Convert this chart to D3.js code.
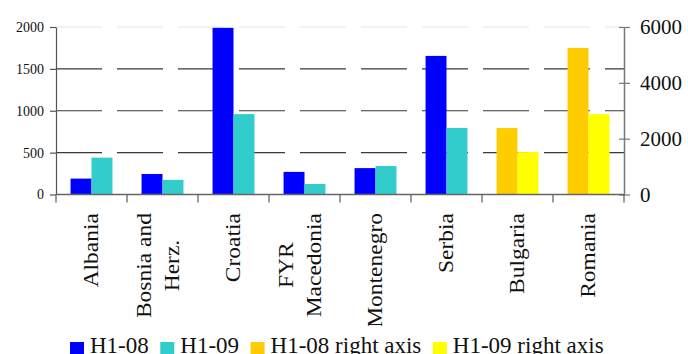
<!DOCTYPE html>
<html>
<head>
<meta charset="utf-8">
<script src="https://cdn.jsdelivr.net/npm/d3@7"></script>
<style>
  html, body { margin: 0; padding: 0; background: #fff; }
  svg { display: block; }
  text { font-family: "Liberation Serif", "Times New Roman", serif; fill: #111; }
</style>
</head>
<body>
<svg id="chart" width="688" height="354"></svg>
<script>
// Countries along the category axis (line breaks mark wrapped labels)
const categories = ["Albania", "Bosnia and\nHerz.", "Croatia", "FYR\nMacedonia", "Montenegro", "Serbia", "Bulgaria", "Romania"];

// Left-axis series
const h108 = [190, 245, 1990, 270, 315, 1655, null, null];
const h109 = [440, 175, 960, 125, 340, 795, null, null];

// Right-axis series
const h108Right = [null, null, null, null, null, null, 2380, 5250];
const h109Right = [null, null, null, null, null, null, 1520, 2880];

const leftTicks = [0, 500, 1000, 1500, 2000];
const rightTicks = [0, 2000, 4000, 6000];

const seriesNames = ["H1-08", "H1-09", "H1-08 right axis", "H1-09 right axis"];
const seriesColors = ["#0000FF", "#33CCCC", "#FFCC00", "#FFFF00"];

const svg = d3.select("#chart");
const plotLeft = 56, plotRight = 624, plotTop = 27, plotBottom = 194.5;

const x = d3.scaleBand().domain(categories).range([plotLeft, plotRight]);
const bw = x.bandwidth();
const slot = d3.scaleBand().domain([0, 1]).range([bw * 0.205, bw * 0.795]);
const yLeft = d3.scaleLinear().domain([0, 2000]).range([plotBottom, plotTop]);
const yRight = d3.scaleLinear().domain([0, 6000]).range([plotBottom, plotTop]);

// Horizontal gridlines (dashed)
svg.append("g").selectAll("line")
  .data(leftTicks.filter(d => d > 0))
  .join("line")
  .attr("x1", plotLeft).attr("x2", plotRight)
  .attr("y1", d => yLeft(d)).attr("y2", d => yLeft(d))
  .attr("stroke", d => d === 2000 ? "#e6e6e6" : "#3a3a3a")
  .attr("stroke-width", 1.2)
  .attr("stroke-dasharray", "46,15");

// Bars
const series = [
  { values: h108, slot: 0, y: yLeft, color: seriesColors[0] },
  { values: h109, slot: 1, y: yLeft, color: seriesColors[1] },
  { values: h108Right, slot: 0, y: yRight, color: seriesColors[2] },
  { values: h109Right, slot: 1, y: yRight, color: seriesColors[3] }
];
series.forEach(s => {
  svg.append("g").selectAll("rect")
    .data(categories.map((c, i) => ({ c, v: s.values[i] })).filter(d => d.v != null))
    .join("rect")
    .attr("x", d => x(d.c) + slot(s.slot))
    .attr("width", slot.bandwidth())
    .attr("y", d => s.y(d.v))
    .attr("height", d => s.y(0) - s.y(d.v))
    .attr("fill", s.color);
});

// Left axis
const gl = svg.append("g").attr("transform", `translate(${plotLeft},0)`)
  .call(d3.axisLeft(yLeft).tickValues(leftTicks).tickFormat(d3.format("d")).tickSize(6).tickSizeOuter(0).tickPadding(6));
gl.select(".domain").attr("stroke", "#555").attr("stroke-width", 1.2);
gl.selectAll(".tick line").attr("stroke", "#555").attr("stroke-width", 1.2);
gl.selectAll(".tick text").attr("font-size", 14).attr("font-family", "Liberation Serif").attr("fill", "#222");

// Right axis
const gr = svg.append("g").attr("transform", `translate(${plotRight},0)`)
  .call(d3.axisRight(yRight).tickValues(rightTicks).tickFormat(d3.format("d")).tickSize(6).tickSizeOuter(0).tickPadding(10));
gr.select(".domain").attr("stroke", "#777").attr("stroke-width", 1.5);
gr.selectAll(".tick line").attr("x1", -5).attr("stroke", "#777").attr("stroke-width", 1.2);
gr.selectAll(".tick text").attr("font-size", 21).attr("font-family", "Liberation Serif").attr("fill", "#111");

// Category axis: baseline and boundary ticks
const bounds = categories.map(c => x(c)).concat([x.range()[1]]);
svg.append("line")
  .attr("x1", plotLeft).attr("x2", plotRight)
  .attr("y1", plotBottom).attr("y2", plotBottom)
  .attr("stroke", "#666").attr("stroke-width", 1.3);
svg.append("g").selectAll("line")
  .data(bounds)
  .join("line")
  .attr("x1", d => d).attr("x2", d => d)
  .attr("y1", plotBottom).attr("y2", plotBottom + 8)
  .attr("stroke", "#666").attr("stroke-width", 1.3);

// Rotated category labels
const labelFont = 23.5, squeeze = 0.87, lineGap = 28, labelTop = 213;
const labels = svg.append("g");
categories.forEach(c => {
  const lines = c.split("\n");
  const n = lines.length;
  const cx = x(c) + bw / 2 + (n > 1 ? -4 : 0);
  const g = labels.append("g")
    .attr("transform", `translate(0,${labelTop})`);
  lines.forEach((ln, i) => {
    const bx = cx + (i - (n - 1) / 2) * lineGap + 6.7;
    g.append("text")
      .attr("transform", `translate(${bx},0) scale(${squeeze},1) rotate(-90)`)
      .attr("text-anchor", n > 1 ? "middle" : "end")
      .attr("x", n > 1 ? -0 : 0)
      .attr("font-size", labelFont)
      .text(ln)
      .each(function () {
        if (n > 1) {
          // centre each wrapped line on the longest line of the label
          const longest = d3.max(lines, l => l.length);
          d3.select(this).attr("data-l", longest);
        }
      });
  });
});
// Centre wrapped lines along the block of the longest line
labels.selectAll("g").each(function () {
  const texts = d3.select(this).selectAll("text").nodes();
  if (texts.length > 1) {
    const maxLen = d3.max(texts, t => t.getComputedTextLength());
    texts.forEach(t => d3.select(t).attr("x", -maxLen / 2));
  }
});

// Legend (white band over the lower edge)
svg.append("rect").attr("x", 0).attr("y", 326).attr("width", 688).attr("height", 28).attr("fill", "#fff");
const legend = svg.append("g");
let lx = 70;
seriesNames.forEach((name, i) => {
  legend.append("rect").attr("x", lx).attr("y", 342).attr("width", 14).attr("height", 14).attr("fill", seriesColors[i]);
  const t = legend.append("text").attr("x", lx + 20).attr("y", 353).attr("font-size", 23).text(name);
  lx += 20 + t.node().getComputedTextLength() + 11.5;
});
</script>
</body>
</html>
